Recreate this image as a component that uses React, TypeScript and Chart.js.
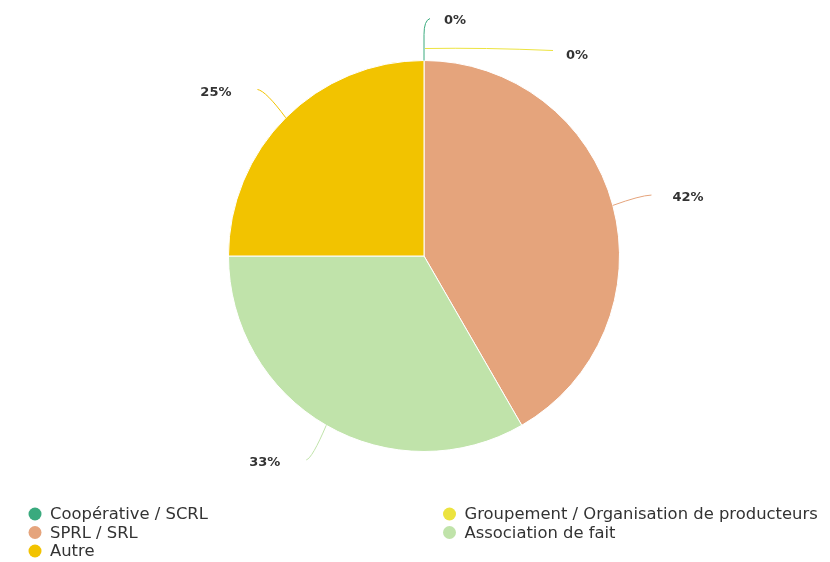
import React, { useEffect, useRef } from "react";
import { Chart, registerables } from "chart.js";

Chart.register(...registerables);

const categories = [
  "Coopérative / SCRL",
  "Groupement / Organisation de producteurs",
  "SPRL / SRL",
  "Association de fait",
  "Autre",
];
const values = [0, 0, 5, 4, 3];
const percentLabels = ["0%", "0%", "42%", "33%", "25%"];
const colors = ["#3aaa7e", "#ece33f", "#e5a47c", "#c0e3aa", "#f2c300"];

const labelPlugin = {
  id: "pieLabels",
  afterDatasetsDraw(chart: any) {
    const ctx = chart.ctx;
    const meta = chart.getDatasetMeta(0);
    let zeroIdx = 0;
    ctx.save();
    ctx.font = "bold 13px 'DejaVu Sans'";
    ctx.fillStyle = "#333333";
    ctx.textBaseline = "middle";
    meta.data.forEach((arc: any, i: number) => {
      const { x: cx, y: cy, outerRadius: r, startAngle, endAngle } = arc.getProps(
        ["x", "y", "outerRadius", "startAngle", "endAngle"],
        true
      );
      const color = colors[i];
      ctx.strokeStyle = color;
      ctx.lineWidth = 1;
      const text = percentLabels[i];
      if (values[i] === 0) {
        ctx.beginPath();
        if (zeroIdx === 0) {
          ctx.moveTo(cx, cy - r);
          ctx.lineTo(cx, cy - r - 26);
          ctx.quadraticCurveTo(cx, cy - r - 40, cx + 6, cy - r - 42);
          ctx.stroke();
          ctx.textAlign = "left";
          ctx.fillText(text, cx + 20, cy - r - 40);
        } else {
          ctx.moveTo(cx + 1, cy - r - 12);
          ctx.quadraticCurveTo(cx + 60, cy - r - 13, cx + 129, cy - r - 10);
          ctx.stroke();
          ctx.textAlign = "left";
          ctx.fillText(text, cx + 142, cy - r - 5);
        }
        zeroIdx++;
        return;
      }
      const mid = (startAngle + endAngle) / 2;
      const dx = Math.cos(mid);
      const dy = Math.sin(mid);
      const sx = cx + r * dx;
      const sy = cy + r * dy;
      const right = dx >= 0;
      const dist = 40;
      const ex = cx + (r + dist) * dx;
      const ey = cy + (r + dist) * dy;
      const qx = sx + (ex - sx) * 0.7;
      const qy = sy + (ey - sy) * 0.95;
      ctx.beginPath();
      ctx.moveTo(sx, sy);
      ctx.quadraticCurveTo(qx, qy, ex, ey);
      ctx.stroke();
      ctx.textAlign = right ? "left" : "right";
      ctx.fillText(text, ex + (right ? 21 : -26), ey + 3);
    });
    ctx.restore();
  },
  afterDraw(chart: any) {
    const ctx = chart.ctx;
    ctx.save();
    ctx.font = "16.4px 'DejaVu Sans'";
    ctx.textBaseline = "middle";
    ctx.textAlign = "left";
    const colX = [35, 449.5];
    const rowY0 = 514;
    const rowH = 18.5;
    categories.forEach((name, i) => {
      const col = i % 2;
      const row = Math.floor(i / 2);
      const x = colX[col];
      const y = rowY0 + row * rowH;
      ctx.beginPath();
      ctx.fillStyle = colors[i];
      ctx.arc(x, y, 6.5, 0, Math.PI * 2);
      ctx.fill();
      ctx.fillStyle = "#333333";
      ctx.fillText(name, x + 15, y + 1);
    });
    ctx.restore();
  },
};

export default function App() {
  const ref = useRef<HTMLCanvasElement | null>(null);
  useEffect(() => {
    if (!ref.current) return;
    const chart = new Chart(ref.current, {
      type: "pie",
      data: {
        labels: categories,
        datasets: [
          {
            data: values,
            backgroundColor: colors,
            borderColor: "#ffffff",
            borderWidth: 1,
          },
        ],
      },
      options: {
        animation: false,
        responsive: false,
        layout: { padding: { top: 60, bottom: 110, left: 28, right: 10 } },
        plugins: {
          legend: { display: false },
          tooltip: { enabled: false },
        },
      },
      plugins: [labelPlugin],
    });
    return () => chart.destroy();
  }, []);
  return (
    <div style={{ position: "fixed", left: 0, top: 0, width: 830, height: 562, background: "#fff" }}>
      <canvas ref={ref} width={830} height={562} style={{ width: 830, height: 562 }} />
    </div>
  );
}
